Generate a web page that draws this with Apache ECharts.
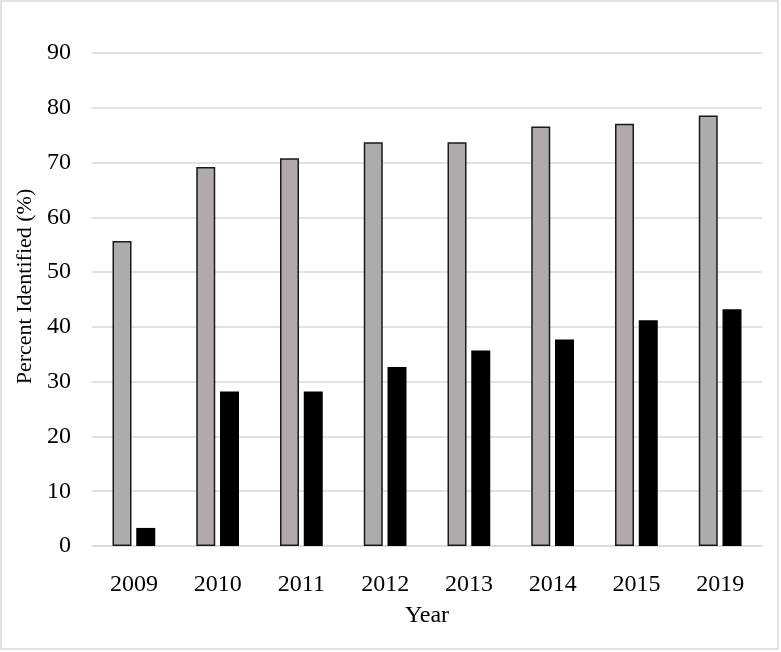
<!DOCTYPE html>
<html>
<head>
<meta charset="utf-8">
<script src="https://cdn.jsdelivr.net/npm/echarts@6/dist/echarts.min.js"></script>
<style>html,body{margin:0;padding:0;background:#fff;}#c{width:781px;height:652px;}</style>
</head>
<body>
<div id="c"></div>
<script>
var years = ['2009','2010','2011','2012','2013','2014','2015','2019'];
var seriesGray = [55.7, 69.2, 70.8, 73.7, 73.7, 76.6, 77.1, 78.6];
var seriesBlack = [3.3, 28.2, 28.2, 32.7, 35.7, 37.7, 41.2, 43.2];
var yTicks = {min: 0, max: 90, interval: 10};

var FONT = "'Liberation Serif', 'Times New Roman', serif";
var chart = echarts.init(document.getElementById('c'), null, {renderer: 'canvas'});
chart.setOption({
  animation: false,
  backgroundColor: '#ffffff',
  graphic: [{
    type: 'rect',
    shape: {x: 1, y: 1, width: 777, height: 648},
    style: {fill: 'none', stroke: '#d9d9d9', lineWidth: 1.5},
    silent: true
  }],
  grid: {left: 92, right: 19, top: 53, bottom: 106, containLabel: false},
  xAxis: {
    type: 'category',
    data: years,
    name: 'Year',
    nameLocation: 'middle',
    nameGap: 58,
    nameTextStyle: {fontFamily: FONT, fontSize: 24, color: '#000'},
    axisLine: {show: true, lineStyle: {color: '#d9d9d9', width: 1.5}},
    axisTick: {show: false},
    axisLabel: {fontFamily: FONT, fontSize: 24, color: '#000', margin: 27}
  },
  yAxis: {
    type: 'value',
    min: yTicks.min, max: yTicks.max, interval: yTicks.interval,
    name: 'Percent Identified (%)',
    nameLocation: 'middle',
    nameGap: 56,
    nameTextStyle: {fontFamily: FONT, fontSize: 22, color: '#000', padding: [0, 0, 0, 26]},
    axisLine: {show: false},
    axisTick: {show: false},
    splitLine: {show: true, lineStyle: {color: '#d9d9d9', width: 1.5}},
    axisLabel: {fontFamily: FONT, fontSize: 24, color: '#000', margin: 21}
  },
  series: [{
    type: 'bar',
    data: seriesGray,
    barWidth: 19,
    barGap: '25%',
    itemStyle: {color: '#aeabaa', borderColor: '#1a1a1a', borderWidth: 1.5}
  }, {
    type: 'bar',
    data: seriesBlack,
    barWidth: 19,
    barGap: '25%',
    itemStyle: {color: '#000000'}
  }]
});
</script>
</body>
</html>
